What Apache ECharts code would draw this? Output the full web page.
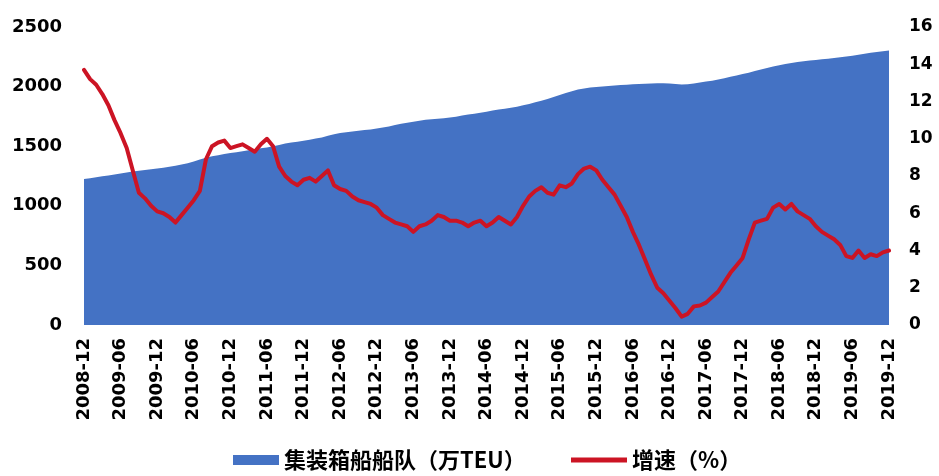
<!DOCTYPE html>
<html>
<head>
<meta charset="utf-8">
<script src="https://cdn.jsdelivr.net/npm/echarts@6/dist/echarts.min.js"></script>
<style>
html,body{margin:0;padding:0;background:#fff;}
#chart{width:939px;height:476px;}
</style>
</head>
<body>
<div id="chart"></div>
<script>
// Month labels 2008-12 .. 2019-12
const startYear = 2008, startMonth = 12, monthCount = 133;
const categories = [];
for (let k = 0; k < monthCount; k++) {
  const m0 = startMonth - 1 + k;
  const y = startYear + Math.floor(m0 / 12);
  const m = (m0 % 12) + 1;
  categories.push(y + '-' + (m < 10 ? '0' + m : '' + m));
}

// 集装箱船船队（万TEU）
const fleet = [
  1225,1232,1240,1247,1254,1262,1270,1279,1287,1294,1300,1307,
  1313,1320,1327,1336,1346,1358,1372,1388,1404,1416,1425,1434,
  1442,1450,1458,1466,1474,1482,1490,1500,1510,1522,1530,1538,
  1546,1555,1564,1574,1588,1600,1610,1617,1623,1630,1636,1641,
  1648,1656,1666,1677,1688,1697,1705,1713,1722,1727,1730,1734,
  1740,1748,1757,1765,1772,1780,1790,1800,1808,1815,1822,1832,
  1843,1855,1868,1882,1897,1913,1930,1946,1962,1975,1985,1992,
  1997,2001,2005,2009,2013,2016,2019,2022,2024,2026,2028,2029,
  2026,2022,2018,2020,2026,2034,2042,2050,2060,2070,2082,2093,
  2105,2117,2130,2143,2156,2168,2180,2190,2199,2206,2212,2218,
  2224,2229,2234,2240,2246,2252,2259,2267,2275,2283,2290,2297,
  2303
];

// 增速（%）
const growth = [
  13.7,13.2,12.9,12.4,11.8,11.0,10.3,9.5,8.3,7.1,6.8,6.4,
  6.1,6.0,5.8,5.5,5.9,6.3,6.7,7.2,8.9,9.6,9.8,9.9,
  9.5,9.6,9.7,9.5,9.3,9.7,10.0,9.6,8.5,8.0,7.7,7.5,
  7.8,7.9,7.7,8.0,8.3,7.5,7.3,7.2,6.9,6.7,6.6,6.5,
  6.3,5.9,5.7,5.5,5.4,5.3,5.0,5.3,5.4,5.6,5.9,5.8,
  5.6,5.6,5.5,5.3,5.5,5.6,5.3,5.5,5.8,5.6,5.4,5.8,
  6.4,6.9,7.2,7.4,7.1,7.0,7.5,7.4,7.6,8.1,8.4,8.5,
  8.3,7.8,7.4,7.0,6.4,5.8,5.0,4.3,3.5,2.7,2.0,1.7,
  1.3,0.9,0.45,0.6,1.0,1.05,1.2,1.5,1.8,2.3,2.8,3.2,
  3.6,4.6,5.5,5.6,5.7,6.3,6.5,6.2,6.5,6.1,5.9,5.7,
  5.3,5.0,4.8,4.6,4.3,3.7,3.6,4.0,3.6,3.8,3.7,3.9,
  4.0
];

const leftTicks = { min: 0, max: 2500, interval: 500 };
const rightTicks = { min: 0, max: 16, interval: 2 };

const nameFleet = '集装箱船船队（万TEU）';
const nameGrowth = '增速（%）';

const chart = echarts.init(document.getElementById('chart'));
const labelFont = 'DejaVu Sans';
const plain = v => String(v);
chart.setOption({
  animation: false,
  backgroundColor: '#ffffff',
  grid: { left: 84, right: 50, top: 27, bottom: 151, containLabel: false },
  legend: [
    {
      data: [{ name: nameFleet, icon: 'rect' }],
      left: 228, top: 444, itemWidth: 46, itemHeight: 10, itemGap: 4,
      textStyle: { fontFamily: 'Noto Sans CJK SC', fontWeight: 'bold', fontSize: 22, color: '#000' }
    },
    {
      data: [{ name: nameGrowth, icon: 'rect' }],
      left: 566, top: 444, itemWidth: 56, itemHeight: 5, itemGap: 4,
      textStyle: { fontFamily: 'Noto Sans CJK SC', fontWeight: 'bold', fontSize: 22, color: '#000' }
    }
  ],
  xAxis: {
    type: 'category',
    data: categories,
    boundaryGap: false,
    axisLine: { show: false },
    axisTick: { show: false },
    axisLabel: {
      interval: 5, rotate: 90, margin: 13,
      fontFamily: labelFont, fontWeight: 'bold', fontSize: 18, color: '#000'
    }
  },
  yAxis: [
    {
      type: 'value', min: leftTicks.min, max: leftTicks.max, interval: leftTicks.interval,
      splitLine: { show: false }, axisLine: { show: false }, axisTick: { show: false },
      axisLabel: { margin: 22, formatter: plain, fontFamily: labelFont, fontWeight: 'bold', fontSize: 18, color: '#000' }
    },
    {
      type: 'value', min: rightTicks.min, max: rightTicks.max, interval: rightTicks.interval,
      splitLine: { show: false }, axisLine: { show: false }, axisTick: { show: false },
      axisLabel: { margin: 20, formatter: plain, fontFamily: labelFont, fontWeight: 'bold', fontSize: 17, color: '#000' }
    }
  ],
  series: [
    {
      name: nameFleet, type: 'line', yAxisIndex: 0, data: fleet,
      showSymbol: false, symbol: 'none',
      itemStyle: { color: '#4472C4' },
      lineStyle: { width: 0, color: '#4472C4' },
      areaStyle: { color: '#4472C4', opacity: 1 },
      z: 1
    },
    {
      name: nameGrowth, type: 'line', yAxisIndex: 1, data: growth,
      showSymbol: false, symbol: 'none',
      itemStyle: { color: '#CC1424' },
      lineStyle: { width: 4, color: '#CC1424', join: 'round', cap: 'round' },
      z: 3
    }
  ]
});
</script>
</body>
</html>
